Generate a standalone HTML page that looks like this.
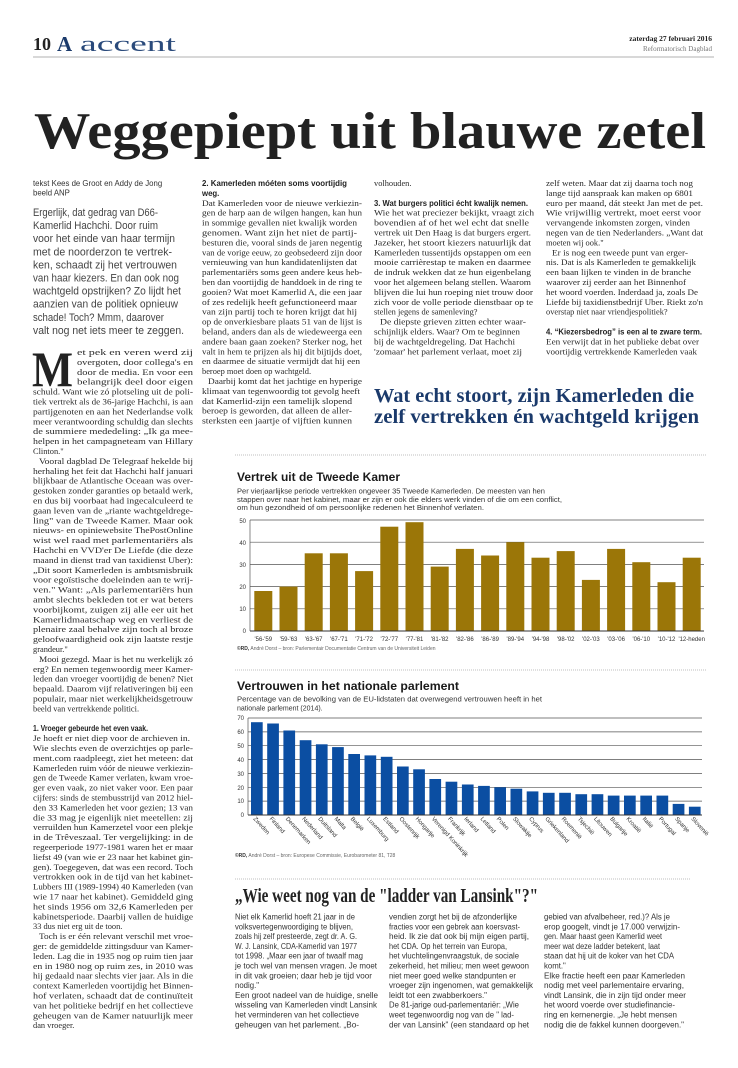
<!DOCTYPE html>
<html><head><meta charset="utf-8">
<style>
html,body{margin:0;padding:0;background:#fff;}
svg{display:block;}
.b{font-family:"Liberation Serif",serif;font-size:8.4px;fill:#2a2a2a;}
.h{font-family:"Liberation Sans",sans-serif;font-size:7.8px;font-weight:bold;fill:#222;}
.s{font-family:"Liberation Sans",sans-serif;font-size:7.8px;fill:#333;}
.i{font-family:"Liberation Sans",sans-serif;font-size:10.6px;fill:#444;}
.ax{font-family:"Liberation Sans",sans-serif;font-size:6px;fill:#333;}
.cr{font-family:"Liberation Sans",sans-serif;font-size:5px;fill:#666;}
.ct{font-family:"Liberation Sans",sans-serif;font-size:11.5px;font-weight:bold;fill:#1a1a1a;}
.cs{font-family:"Liberation Sans",sans-serif;font-size:7px;fill:#333;}
</style></head><body>
<svg width="738" height="1068" viewBox="0 0 738 1068" xmlns="http://www.w3.org/2000/svg">
<rect width="738" height="1068" fill="#fff"/>
<!-- header -->
<text x="33" y="50" font-family="Liberation Serif,serif" font-size="18" font-weight="bold" fill="#222">10</text>
<text x="57" y="51" font-family="Liberation Serif,serif" font-size="21" font-weight="bold" fill="#1b3a6b">A</text>
<text x="80" y="51" font-family="Liberation Serif,serif" font-size="22" fill="#2a4a7b" textLength="96" lengthAdjust="spacingAndGlyphs">accent</text>
<text x="712" y="41" text-anchor="end" font-family="Liberation Serif,serif" font-size="7.5" font-weight="bold" fill="#222">zaterdag 27 februari 2016</text>
<text x="712" y="51" text-anchor="end" font-family="Liberation Serif,serif" font-size="7" fill="#777">Reformatorisch Dagblad</text>
<line x1="33" y1="57" x2="714" y2="57" stroke="#999" stroke-width="0.8"/>
<text x="34" y="148" font-family="Liberation Serif,serif" font-size="52" font-weight="bold" fill="#222" textLength="672" lengthAdjust="spacingAndGlyphs">Weggepiept uit blauwe zetel</text>

<!-- byline and intro -->
<text class="s" x="33" y="186" font-size="7.6">tekst Kees de Groot en Addy de Jong</text>
<text class="s" x="33" y="195.5" font-size="7.6">beeld ANP</text>
<text class="i" x="33" y="216" textLength="125" lengthAdjust="spacingAndGlyphs">Ergerlijk, dat gedrag van D66-</text>
<text class="i" x="33" y="229.1" textLength="125" lengthAdjust="spacingAndGlyphs">Kamerlid Hachchi. Door ruim</text>
<text class="i" x="33" y="242.2" textLength="142" lengthAdjust="spacingAndGlyphs">voor het einde van haar termijn</text>
<text class="i" x="33" y="255.3" textLength="139" lengthAdjust="spacingAndGlyphs">met de noorderzon te vertrek-</text>
<text class="i" x="33" y="268.4" textLength="144" lengthAdjust="spacingAndGlyphs">ken, schaadt zij het vertrouwen</text>
<text class="i" x="33" y="281.5" textLength="146" lengthAdjust="spacingAndGlyphs">van haar kiezers. En dan ook nog</text>
<text class="i" x="33" y="294.6" textLength="148" lengthAdjust="spacingAndGlyphs">wachtgeld opstrijken? Zo lijdt het</text>
<text class="i" x="33" y="307.7" textLength="145" lengthAdjust="spacingAndGlyphs">aanzien van de politiek opnieuw</text>
<text class="i" x="33" y="320.8" textLength="131" lengthAdjust="spacingAndGlyphs">schade! Toch? Mmm, daarover</text>
<text class="i" x="33" y="333.9" textLength="151" lengthAdjust="spacingAndGlyphs">valt nog net iets meer te zeggen.</text>

<!-- drop cap -->
<text x="32" y="386" font-family="Liberation Serif,serif" font-size="50" font-weight="bold" fill="#222" textLength="41" lengthAdjust="spacingAndGlyphs">M</text>

<!-- column 1 -->
<text class="b" x="77" y="355" textLength="116" lengthAdjust="spacingAndGlyphs">et pek en veren werd zij</text>
<text class="b" x="77" y="364.9" textLength="116" lengthAdjust="spacingAndGlyphs">overgoten, door collega's en</text>
<text class="b" x="77" y="374.8" textLength="116" lengthAdjust="spacingAndGlyphs">door de media. En voor een</text>
<text class="b" x="77" y="384.7" textLength="116" lengthAdjust="spacingAndGlyphs">belangrijk deel door eigen</text>
<text class="b" x="33" y="394.6" textLength="160" lengthAdjust="spacingAndGlyphs">schuld. Want wie zó plotseling uit de poli-</text>
<text class="b" x="33" y="404.5" textLength="160" lengthAdjust="spacingAndGlyphs">tiek vertrekt als de 36-jarige Hachchi, is aan</text>
<text class="b" x="33" y="414.4" textLength="160" lengthAdjust="spacingAndGlyphs">partijgenoten en aan het Nederlandse volk</text>
<text class="b" x="33" y="424.3" textLength="160" lengthAdjust="spacingAndGlyphs">meer verantwoording schuldig dan slechts</text>
<text class="b" x="33" y="434.2" textLength="160" lengthAdjust="spacingAndGlyphs">de summiere mededeling: „Ik ga mee-</text>
<text class="b" x="33" y="444.1" textLength="160" lengthAdjust="spacingAndGlyphs">helpen in het campagneteam van Hillary</text>
<text class="b" x="33" y="454">Clinton."</text>
<text class="b" x="39" y="463.9" textLength="154" lengthAdjust="spacingAndGlyphs">Vooral dagblad De Telegraaf hekelde bij</text>
<text class="b" x="33" y="473.8" textLength="160" lengthAdjust="spacingAndGlyphs">herhaling het feit dat Hachchi half januari</text>
<text class="b" x="33" y="483.7" textLength="160" lengthAdjust="spacingAndGlyphs">blijkbaar de Atlantische Oceaan was over-</text>
<text class="b" x="33" y="493.6" textLength="160" lengthAdjust="spacingAndGlyphs">gestoken zonder garanties op betaald werk,</text>
<text class="b" x="33" y="503.5" textLength="160" lengthAdjust="spacingAndGlyphs">en dus bij voorbaat had ingecalculeerd te</text>
<text class="b" x="33" y="513.4" textLength="160" lengthAdjust="spacingAndGlyphs">gaan leven van de „riante wachtgeldrege-</text>
<text class="b" x="33" y="523.3" textLength="160" lengthAdjust="spacingAndGlyphs">ling" van de Tweede Kamer. Maar ook</text>
<text class="b" x="33" y="533.2" textLength="160" lengthAdjust="spacingAndGlyphs">nieuws- en opiniewebsite ThePostOnline</text>
<text class="b" x="33" y="543.1" textLength="160" lengthAdjust="spacingAndGlyphs">wist wel raad met parlementariërs als</text>
<text class="b" x="33" y="553" textLength="160" lengthAdjust="spacingAndGlyphs">Hachchi en VVD'er De Liefde (die deze</text>
<text class="b" x="33" y="562.9" textLength="160" lengthAdjust="spacingAndGlyphs">maand in dienst trad van taxidienst Uber):</text>
<text class="b" x="33" y="572.8" textLength="160" lengthAdjust="spacingAndGlyphs">„Dit soort Kamerleden is ambtsmisbruik</text>
<text class="b" x="33" y="582.7" textLength="160" lengthAdjust="spacingAndGlyphs">voor egoïstische doeleinden aan te wrij-</text>
<text class="b" x="33" y="592.6" textLength="160" lengthAdjust="spacingAndGlyphs">ven." Want: „Als parlementariërs hun</text>
<text class="b" x="33" y="602.5" textLength="160" lengthAdjust="spacingAndGlyphs">ambt slechts bekleden tot er wat beters</text>
<text class="b" x="33" y="612.4" textLength="160" lengthAdjust="spacingAndGlyphs">voorbijkomt, zuigen zij alle eer uit het</text>
<text class="b" x="33" y="622.3" textLength="160" lengthAdjust="spacingAndGlyphs">Kamerlidmaatschap weg en verliest de</text>
<text class="b" x="33" y="632.2" textLength="160" lengthAdjust="spacingAndGlyphs">plenaire zaal behalve zijn toch al broze</text>
<text class="b" x="33" y="642.1" textLength="160" lengthAdjust="spacingAndGlyphs">geloofwaardigheid ook zijn laatste restje</text>
<text class="b" x="33" y="652">grandeur."</text>
<text class="b" x="39" y="661.9" textLength="154" lengthAdjust="spacingAndGlyphs">Mooi gezegd. Maar is het nu werkelijk zó</text>
<text class="b" x="33" y="671.8" textLength="160" lengthAdjust="spacingAndGlyphs">erg? En nemen tegenwoordig meer Kamer-</text>
<text class="b" x="33" y="681.7" textLength="160" lengthAdjust="spacingAndGlyphs">leden dan vroeger voortijdig de benen? Niet</text>
<text class="b" x="33" y="691.6" textLength="160" lengthAdjust="spacingAndGlyphs">bepaald. Daarom vijf relativeringen bij een</text>
<text class="b" x="33" y="701.5" textLength="160" lengthAdjust="spacingAndGlyphs">populair, maar niet werkelijkheidsgetrouw</text>
<text class="b" x="33" y="711.4">beeld van vertrekkende politici.</text>
<text class="h" x="33" y="731.2" textLength="115" lengthAdjust="spacingAndGlyphs">1. Vroeger gebeurde het even vaak.</text>
<text class="b" x="33" y="741.1" textLength="157" lengthAdjust="spacingAndGlyphs">Je hoeft er niet diep voor de archieven in.</text>
<text class="b" x="33" y="751" textLength="160" lengthAdjust="spacingAndGlyphs">Wie slechts even de overzichtjes op parle-</text>
<text class="b" x="33" y="760.9" textLength="160" lengthAdjust="spacingAndGlyphs">ment.com raadpleegt, ziet het meteen: dat</text>
<text class="b" x="33" y="770.8" textLength="160" lengthAdjust="spacingAndGlyphs">Kamerleden ruim vóór de nieuwe verkiezin-</text>
<text class="b" x="33" y="780.7" textLength="160" lengthAdjust="spacingAndGlyphs">gen de Tweede Kamer verlaten, kwam vroe-</text>
<text class="b" x="33" y="790.6" textLength="160" lengthAdjust="spacingAndGlyphs">ger even vaak, zo niet vaker voor. Een paar</text>
<text class="b" x="33" y="800.5" textLength="160" lengthAdjust="spacingAndGlyphs">cijfers: sinds de stembusstrijd van 2012 hiel-</text>
<text class="b" x="33" y="810.4" textLength="160" lengthAdjust="spacingAndGlyphs">den 33 Kamerleden het voor gezien; 13 van</text>
<text class="b" x="33" y="820.3" textLength="160" lengthAdjust="spacingAndGlyphs">die 33 mag je eigenlijk niet meetellen: zij</text>
<text class="b" x="33" y="830.2" textLength="160" lengthAdjust="spacingAndGlyphs">verruilden hun Kamerzetel voor een plekje</text>
<text class="b" x="33" y="840.1" textLength="160" lengthAdjust="spacingAndGlyphs">in de Trêveszaal. Ter vergelijking: in de</text>
<text class="b" x="33" y="850" textLength="160" lengthAdjust="spacingAndGlyphs">regeerperiode 1977-1981 waren het er maar</text>
<text class="b" x="33" y="859.9" textLength="160" lengthAdjust="spacingAndGlyphs">liefst 49 (van wie er 23 naar het kabinet gin-</text>
<text class="b" x="33" y="869.8" textLength="160" lengthAdjust="spacingAndGlyphs">gen). Toegegeven, dat was een record. Toch</text>
<text class="b" x="33" y="879.7" textLength="160" lengthAdjust="spacingAndGlyphs">vertrokken ook in de tijd van het kabinet-</text>
<text class="b" x="33" y="889.6" textLength="160" lengthAdjust="spacingAndGlyphs">Lubbers III (1989-1994) 40 Kamerleden (van</text>
<text class="b" x="33" y="899.5" textLength="160" lengthAdjust="spacingAndGlyphs">wie 17 naar het kabinet). Gemiddeld ging</text>
<text class="b" x="33" y="909.4" textLength="160" lengthAdjust="spacingAndGlyphs">het sinds 1956 om 32,6 Kamerleden per</text>
<text class="b" x="33" y="919.3" textLength="160" lengthAdjust="spacingAndGlyphs">kabinetsperiode. Daarbij vallen de huidige</text>
<text class="b" x="33" y="929.2">33 dus niet erg uit de toon.</text>
<text class="b" x="39" y="939.1" textLength="154" lengthAdjust="spacingAndGlyphs">Toch is er één relevant verschil met vroe-</text>
<text class="b" x="33" y="949" textLength="160" lengthAdjust="spacingAndGlyphs">ger: de gemiddelde zittingsduur van Kamer-</text>
<text class="b" x="33" y="958.9" textLength="160" lengthAdjust="spacingAndGlyphs">leden. Lag die in 1935 nog op ruim tien jaar</text>
<text class="b" x="33" y="968.8" textLength="160" lengthAdjust="spacingAndGlyphs">en in 1980 nog op ruim zes, in 2010 was</text>
<text class="b" x="33" y="978.7" textLength="160" lengthAdjust="spacingAndGlyphs">hij gedaald naar slechts vier jaar. Als in die</text>
<text class="b" x="33" y="988.6" textLength="160" lengthAdjust="spacingAndGlyphs">context Kamerleden voortijdig het Binnen-</text>
<text class="b" x="33" y="998.5" textLength="160" lengthAdjust="spacingAndGlyphs">hof verlaten, schaadt dat de continuïteit</text>
<text class="b" x="33" y="1008.4" textLength="160" lengthAdjust="spacingAndGlyphs">van het politieke bedrijf en het collectieve</text>
<text class="b" x="33" y="1018.3" textLength="160" lengthAdjust="spacingAndGlyphs">geheugen van de Kamer natuurlijk meer</text>
<text class="b" x="33" y="1028.2">dan vroeger.</text>

<!-- column 2 -->
<text class="h" x="202" y="186" textLength="145" lengthAdjust="spacingAndGlyphs">2. Kamerleden móéten soms voortijdig</text>
<text class="h" x="202" y="195.9">weg.</text>
<text class="b" x="202" y="205.8" textLength="160" lengthAdjust="spacingAndGlyphs">Dat Kamerleden voor de nieuwe verkiezin-</text>
<text class="b" x="202" y="215.7" textLength="160" lengthAdjust="spacingAndGlyphs">gen de harp aan de wilgen hangen, kan hun</text>
<text class="b" x="202" y="225.6" textLength="155" lengthAdjust="spacingAndGlyphs">in sommige gevallen niet kwalijk worden</text>
<text class="b" x="202" y="235.5" textLength="155" lengthAdjust="spacingAndGlyphs">genomen. Want zijn het niet de partij-</text>
<text class="b" x="202" y="245.4" textLength="160" lengthAdjust="spacingAndGlyphs">besturen die, vooral sinds de jaren negentig</text>
<text class="b" x="202" y="255.3" textLength="160" lengthAdjust="spacingAndGlyphs">van de vorige eeuw, zo geobsedeerd zijn door</text>
<text class="b" x="202" y="265.2" textLength="155" lengthAdjust="spacingAndGlyphs">vernieuwing van hun kandidatenlijsten dat</text>
<text class="b" x="202" y="275.1" textLength="160" lengthAdjust="spacingAndGlyphs">parlementariërs soms geen andere keus heb-</text>
<text class="b" x="202" y="285" textLength="160" lengthAdjust="spacingAndGlyphs">ben dan voortijdig de handdoek in de ring te</text>
<text class="b" x="202" y="294.9" textLength="160" lengthAdjust="spacingAndGlyphs">gooien? Wat moet Kamerlid A, die een jaar</text>
<text class="b" x="202" y="304.8" textLength="155" lengthAdjust="spacingAndGlyphs">of zes redelijk heeft gefunctioneerd maar</text>
<text class="b" x="202" y="314.7" textLength="155" lengthAdjust="spacingAndGlyphs">van zijn partij toch te horen krijgt dat hij</text>
<text class="b" x="202" y="324.6" textLength="160" lengthAdjust="spacingAndGlyphs">op de onverkiesbare plaats 51 van de lijst is</text>
<text class="b" x="202" y="334.5" textLength="160" lengthAdjust="spacingAndGlyphs">beland, anders dan als de wiedeweerga een</text>
<text class="b" x="202" y="344.4" textLength="160" lengthAdjust="spacingAndGlyphs">andere baan gaan zoeken? Sterker nog, het</text>
<text class="b" x="202" y="354.3" textLength="160" lengthAdjust="spacingAndGlyphs">valt in hem te prijzen als hij dit bijtijds doet,</text>
<text class="b" x="202" y="364.2" textLength="158" lengthAdjust="spacingAndGlyphs">en daarmee de situatie vermijdt dat hij een</text>
<text class="b" x="202" y="374.1">beroep moet doen op wachtgeld.</text>
<text class="b" x="208" y="384" textLength="154" lengthAdjust="spacingAndGlyphs">Daarbij komt dat het jachtige en hyperige</text>
<text class="b" x="202" y="393.9" textLength="158" lengthAdjust="spacingAndGlyphs">klimaat van tegenwoordig tot gevolg heeft</text>
<text class="b" x="202" y="403.8" textLength="150" lengthAdjust="spacingAndGlyphs">dat Kamerlid-zijn een tamelijk slopend</text>
<text class="b" x="202" y="413.7" textLength="150" lengthAdjust="spacingAndGlyphs">beroep is geworden, dat alleen de aller-</text>
<text class="b" x="202" y="423.6" textLength="150" lengthAdjust="spacingAndGlyphs">sterksten een jaartje of vijftien kunnen</text>

<!-- column 3 -->
<text class="b" x="374" y="186">volhouden.</text>
<text class="h" x="374" y="205.8" textLength="154" lengthAdjust="spacingAndGlyphs">3. Wat burgers politici écht kwalijk nemen.</text>
<text class="b" x="374" y="215.7" textLength="160" lengthAdjust="spacingAndGlyphs">Wie het wat preciezer bekijkt, vraagt zich</text>
<text class="b" x="374" y="225.6" textLength="155" lengthAdjust="spacingAndGlyphs">bovendien af of het wel echt dat snelle</text>
<text class="b" x="374" y="235.5" textLength="157" lengthAdjust="spacingAndGlyphs">vertrek uit Den Haag is dat burgers ergert.</text>
<text class="b" x="374" y="245.4" textLength="157" lengthAdjust="spacingAndGlyphs">Jazeker, het stoort kiezers natuurlijk dat</text>
<text class="b" x="374" y="255.3" textLength="157" lengthAdjust="spacingAndGlyphs">Kamerleden tussentijds opstappen om een</text>
<text class="b" x="374" y="265.2" textLength="157" lengthAdjust="spacingAndGlyphs">mooie carrièrestap te maken en daarmee</text>
<text class="b" x="374" y="275.1" textLength="157" lengthAdjust="spacingAndGlyphs">de indruk wekken dat ze hun eigenbelang</text>
<text class="b" x="374" y="285" textLength="157" lengthAdjust="spacingAndGlyphs">voor het algemeen belang stellen. Waarom</text>
<text class="b" x="374" y="294.9" textLength="159" lengthAdjust="spacingAndGlyphs">blijven die lui hun roeping niet trouw door</text>
<text class="b" x="374" y="304.8" textLength="159" lengthAdjust="spacingAndGlyphs">zich voor de volle periode dienstbaar op te</text>
<text class="b" x="374" y="314.7">stellen jegens de samenleving?</text>
<text class="b" x="380" y="324.6" textLength="146" lengthAdjust="spacingAndGlyphs">De diepste grieven zitten echter waar-</text>
<text class="b" x="374" y="334.5" textLength="146" lengthAdjust="spacingAndGlyphs">schijnlijk elders. Waar? Om te beginnen</text>
<text class="b" x="374" y="344.4" textLength="141" lengthAdjust="spacingAndGlyphs">bij de wachtgeldregeling. Dat Hachchi</text>
<text class="b" x="374" y="354.3" textLength="148" lengthAdjust="spacingAndGlyphs">'zomaar' het parlement verlaat, moet zij</text>

<!-- column 4 -->
<text class="b" x="546" y="186" textLength="147" lengthAdjust="spacingAndGlyphs">zelf weten. Maar dat zij daarna toch nog</text>
<text class="b" x="546" y="195.9" textLength="147" lengthAdjust="spacingAndGlyphs">lange tijd aanspraak kan maken op 6801</text>
<text class="b" x="546" y="205.8" textLength="157" lengthAdjust="spacingAndGlyphs">euro per maand, dát steekt Jan met de pet.</text>
<text class="b" x="546" y="215.7" textLength="155" lengthAdjust="spacingAndGlyphs">Wie vrijwillig vertrekt, moet eerst voor</text>
<text class="b" x="546" y="225.6" textLength="144" lengthAdjust="spacingAndGlyphs">vervangende inkomsten zorgen, vinden</text>
<text class="b" x="546" y="235.5" textLength="157" lengthAdjust="spacingAndGlyphs">negen van de tien Nederlanders. „Want dat</text>
<text class="b" x="546" y="245.4">moeten wij ook."</text>
<text class="b" x="552" y="255.3" textLength="136" lengthAdjust="spacingAndGlyphs">Er is nog een tweede punt van erger-</text>
<text class="b" x="546" y="265.2" textLength="150" lengthAdjust="spacingAndGlyphs">nis. Dat is als Kamerleden te gemakkelijk</text>
<text class="b" x="546" y="275.1" textLength="145" lengthAdjust="spacingAndGlyphs">een baan lijken te vinden in de branche</text>
<text class="b" x="546" y="285" textLength="140" lengthAdjust="spacingAndGlyphs">waarover zij eerder aan het Binnenhof</text>
<text class="b" x="546" y="294.9" textLength="152" lengthAdjust="spacingAndGlyphs">het woord voerden. Inderdaad ja, zoals De</text>
<text class="b" x="546" y="304.8" textLength="157" lengthAdjust="spacingAndGlyphs">Liefde bij taxidienstbedrijf Uber. Riekt zo'n</text>
<text class="b" x="546" y="314.7">overstap niet naar vriendjespolitiek?</text>
<text class="h" x="546" y="334.5" textLength="156" lengthAdjust="spacingAndGlyphs">4. “Kiezersbedrog” is een al te zware term.</text>
<text class="b" x="546" y="344.4" textLength="153" lengthAdjust="spacingAndGlyphs">Een verwijt dat in het publieke debat over</text>
<text class="b" x="546" y="354.3" textLength="151" lengthAdjust="spacingAndGlyphs">voortijdig vertrekkende Kamerleden vaak</text>

<!-- pull quote -->
<text x="374" y="402" font-family="Liberation Serif,serif" font-size="20" font-weight="bold" fill="#1b3a6b" textLength="320" lengthAdjust="spacingAndGlyphs">Wat echt stoort, zijn Kamerleden die</text>
<text x="374" y="423" font-family="Liberation Serif,serif" font-size="20" font-weight="bold" fill="#1b3a6b" textLength="325" lengthAdjust="spacingAndGlyphs">zelf vertrekken én wachtgeld krijgen</text>

<!-- dotted separators -->
<line x1="235" y1="455" x2="706" y2="455" stroke="#aaa" stroke-width="0.7" stroke-dasharray="1,1"/>
<line x1="235" y1="670" x2="706" y2="670" stroke="#aaa" stroke-width="0.7" stroke-dasharray="1,1"/>
<line x1="235" y1="879" x2="690" y2="879" stroke="#aaa" stroke-width="0.7" stroke-dasharray="1,1"/>

<!-- chart 1 -->
<text class="ct" x="237" y="481" textLength="163" lengthAdjust="spacingAndGlyphs">Vertrek uit de Tweede Kamer</text>
<text class="cs" x="237" y="493.5" textLength="308" lengthAdjust="spacingAndGlyphs">Per vierjaarlijkse periode vertrekken ongeveer 35 Tweede Kamerleden. De meesten van hen</text>
<text class="cs" x="237" y="501.8" textLength="325" lengthAdjust="spacingAndGlyphs">stappen over naar het kabinet, maar er zijn er ook die elders werk vinden of die om een conflict,</text>
<text class="cs" x="237" y="510.1" textLength="247" lengthAdjust="spacingAndGlyphs">om hun gezondheid of om persoonlijke redenen het Binnenhof verlaten.</text>
<g stroke="#555" stroke-width="0.7">
<line x1="250" y1="520" x2="704" y2="520"/><line x1="250" y1="542.2" x2="704" y2="542.2"/><line x1="250" y1="564.4" x2="704" y2="564.4"/><line x1="250" y1="586.6" x2="704" y2="586.6"/><line x1="250" y1="608.8" x2="704" y2="608.8"/>
<line x1="250" y1="520" x2="250" y2="631"/>
</g>
<g fill="#9b7608">
<rect x="254.3" y="591" width="18" height="40"/>
<rect x="279.5" y="586.6" width="18" height="44.4"/>
<rect x="304.7" y="553.3" width="18" height="77.7"/>
<rect x="329.9" y="553.3" width="18" height="77.7"/>
<rect x="355.1" y="571.1" width="18" height="59.9"/>
<rect x="380.3" y="526.7" width="18" height="104.3"/>
<rect x="405.5" y="522.2" width="18" height="108.8"/>
<rect x="430.7" y="566.6" width="18" height="64.4"/>
<rect x="455.9" y="548.9" width="18" height="82.1"/>
<rect x="481.1" y="555.5" width="18" height="75.5"/>
<rect x="506.3" y="542.2" width="18" height="88.8"/>
<rect x="531.5" y="557.7" width="18" height="73.3"/>
<rect x="556.7" y="551.1" width="18" height="79.9"/>
<rect x="581.9" y="579.9" width="18" height="51.1"/>
<rect x="607.1" y="548.9" width="18" height="82.1"/>
<rect x="632.3" y="562.2" width="18" height="68.8"/>
<rect x="657.5" y="582.2" width="18" height="48.8"/>
<rect x="682.7" y="557.7" width="18" height="73.3"/>
</g>
<line x1="250" y1="631" x2="704" y2="631" stroke="#333" stroke-width="0.9"/>
<g class="ax" text-anchor="end">
<text x="246" y="523">50</text><text x="246" y="545">40</text><text x="246" y="567">30</text><text x="246" y="589">20</text><text x="246" y="611">10</text><text x="246" y="633">0</text>
</g>
<g class="ax" text-anchor="middle" font-size="5.6">
<text x="263.3" y="641">'56-'59</text><text x="288.5" y="641">'59-'63</text><text x="313.7" y="641">'63-'67</text><text x="338.9" y="641">'67-'71</text><text x="364.1" y="641">'71-'72</text><text x="389.3" y="641">'72-'77</text><text x="414.5" y="641">'77-'81</text><text x="439.7" y="641">'81-'82</text><text x="464.9" y="641">'82-'86</text><text x="490.1" y="641">'86-'89</text><text x="515.3" y="641">'89-'94</text><text x="540.5" y="641">'94-'98</text><text x="565.7" y="641">'98-'02</text><text x="590.9" y="641">'02-'03</text><text x="616.1" y="641">'03-'06</text><text x="641.3" y="641">'06-'10</text><text x="666.5" y="641">'10-'12</text><text x="691.7" y="641">'12-heden</text>
</g>
<text class="cr" x="237" y="650"><tspan font-weight="bold" fill="#333">©RD,</tspan> André Dorst – bron: Parlementair Documentatie Centrum van de Universiteit Leiden</text>

<!-- chart 2 -->
<text class="ct" x="237" y="690" textLength="222" lengthAdjust="spacingAndGlyphs">Vertrouwen in het nationale parlement</text>
<text class="cs" x="237" y="701.5" textLength="305" lengthAdjust="spacingAndGlyphs">Percentage van de bevolking van de EU-lidstaten dat overwegend vertrouwen heeft in het</text>
<text class="cs" x="237" y="710.3">nationale parlement (2014).</text>
<g stroke="#555" stroke-width="0.7">
<line x1="248" y1="718" x2="702" y2="718"/><line x1="248" y1="731.9" x2="702" y2="731.9"/><line x1="248" y1="745.7" x2="702" y2="745.7"/><line x1="248" y1="759.6" x2="702" y2="759.6"/><line x1="248" y1="773.4" x2="702" y2="773.4"/><line x1="248" y1="787.3" x2="702" y2="787.3"/><line x1="248" y1="801.1" x2="702" y2="801.1"/>
<line x1="248" y1="718" x2="248" y2="815"/>
</g>
<g fill="#0b4ea2">
<rect x="251" y="722.2" width="11.7" height="92.8"/>
<rect x="267.2" y="723.5" width="11.7" height="91.5"/>
<rect x="283.4" y="730.5" width="11.7" height="84.5"/>
<rect x="299.7" y="740.2" width="11.7" height="74.8"/>
<rect x="315.9" y="744.3" width="11.7" height="70.7"/>
<rect x="332.1" y="747.1" width="11.7" height="67.9"/>
<rect x="348.3" y="754" width="11.7" height="61"/>
<rect x="364.5" y="755.4" width="11.7" height="59.6"/>
<rect x="380.8" y="756.8" width="11.7" height="58.2"/>
<rect x="397" y="766.5" width="11.7" height="48.5"/>
<rect x="413.2" y="769.3" width="11.7" height="45.7"/>
<rect x="429.4" y="779" width="11.7" height="36"/>
<rect x="445.6" y="781.7" width="11.7" height="33.3"/>
<rect x="461.9" y="784.5" width="11.7" height="30.5"/>
<rect x="478.1" y="785.9" width="11.7" height="29.1"/>
<rect x="494.3" y="787.3" width="11.7" height="27.7"/>
<rect x="510.5" y="788.7" width="11.7" height="26.3"/>
<rect x="526.7" y="791.4" width="11.7" height="23.6"/>
<rect x="542.9" y="792.8" width="11.7" height="22.2"/>
<rect x="559.2" y="792.8" width="11.7" height="22.2"/>
<rect x="575.4" y="794.2" width="11.7" height="20.8"/>
<rect x="591.6" y="794.2" width="11.7" height="20.8"/>
<rect x="607.8" y="795.6" width="11.7" height="19.4"/>
<rect x="624" y="795.6" width="11.7" height="19.4"/>
<rect x="640.3" y="795.6" width="11.7" height="19.4"/>
<rect x="656.5" y="795.6" width="11.7" height="19.4"/>
<rect x="672.7" y="803.9" width="11.7" height="11.1"/>
<rect x="688.9" y="806.7" width="11.7" height="8.3"/>
</g>
<line x1="248" y1="815" x2="702" y2="815" stroke="#333" stroke-width="0.9"/>
<g class="ax" text-anchor="end">
<text x="244" y="720">70</text><text x="244" y="734">60</text><text x="244" y="748">50</text><text x="244" y="762">40</text><text x="244" y="776">30</text><text x="244" y="790">20</text><text x="244" y="803">10</text><text x="244" y="817">0</text>
</g>
<g class="ax" font-size="5.8">
<text transform="translate(253,819) rotate(48)">Zweden</text>
<text transform="translate(269.2,819) rotate(48)">Finland</text>
<text transform="translate(285.4,819) rotate(48)">Denemarken</text>
<text transform="translate(301.7,819) rotate(48)">Nederland</text>
<text transform="translate(317.9,819) rotate(48)">Duitsland</text>
<text transform="translate(334.1,819) rotate(48)">Malta</text>
<text transform="translate(350.3,819) rotate(48)">België</text>
<text transform="translate(366.5,819) rotate(48)">Luxemburg</text>
<text transform="translate(382.8,819) rotate(48)">Estland</text>
<text transform="translate(399,819) rotate(48)">Oostenrijk</text>
<text transform="translate(415.2,819) rotate(48)">Hongarije</text>
<text transform="translate(431.4,819) rotate(48)">Verenigd Koninkrijk</text>
<text transform="translate(447.6,819) rotate(48)">Frankrijk</text>
<text transform="translate(463.9,819) rotate(48)">Ierland</text>
<text transform="translate(480.1,819) rotate(48)">Letland</text>
<text transform="translate(496.3,819) rotate(48)">Polen</text>
<text transform="translate(512.5,819) rotate(48)">Slowakije</text>
<text transform="translate(528.7,819) rotate(48)">Cyprus</text>
<text transform="translate(544.9,819) rotate(48)">Griekenland</text>
<text transform="translate(561.2,819) rotate(48)">Roemenië</text>
<text transform="translate(577.4,819) rotate(48)">Tsjechië</text>
<text transform="translate(593.6,819) rotate(48)">Litouwen</text>
<text transform="translate(609.8,819) rotate(48)">Bulgarije</text>
<text transform="translate(626,819) rotate(48)">Kroatië</text>
<text transform="translate(642.3,819) rotate(48)">Italië</text>
<text transform="translate(658.5,819) rotate(48)">Portugal</text>
<text transform="translate(674.7,819) rotate(48)">Spanje</text>
<text transform="translate(690.9,819) rotate(48)">Slovenië</text>
</g>
<text class="cr" x="235" y="857"><tspan font-weight="bold" fill="#333">©RD,</tspan> André Dorst – bron: Europese Commissie, Eurobarometer 81, T28</text>

<!-- bottom section -->
<text x="235" y="902" font-family="Liberation Serif,serif" font-size="20" font-weight="bold" fill="#222" textLength="303" lengthAdjust="spacingAndGlyphs">„Wie weet nog van de "ladder van Lansink"?"</text>
<g class="s" font-size="7.7">
<text x="235" y="919.5" textLength="120" lengthAdjust="spacingAndGlyphs">Niet elk Kamerlid hoeft 21 jaar in de</text>
<text x="235" y="929.3" textLength="118" lengthAdjust="spacingAndGlyphs">volksvertegenwoordiging te blijven,</text>
<text x="235" y="939.1" textLength="122" lengthAdjust="spacingAndGlyphs">zoals hij zelf presteerde, zegt dr. A. G.</text>
<text x="235" y="948.9" textLength="122" lengthAdjust="spacingAndGlyphs">W. J. Lansink, CDA-Kamerlid van 1977</text>
<text x="235" y="958.7" textLength="128" lengthAdjust="spacingAndGlyphs">tot 1998. „Maar een jaar of twaalf mag</text>
<text x="235" y="968.5" textLength="142" lengthAdjust="spacingAndGlyphs">je toch wel van mensen vragen. Je moet</text>
<text x="235" y="978.3" textLength="137" lengthAdjust="spacingAndGlyphs">in dit vak groeien; daar heb je tijd voor</text>
<text x="235" y="988.1">nodig."</text>
<text x="235" y="997.9" textLength="143" lengthAdjust="spacingAndGlyphs">Een groot nadeel van de huidige, snelle</text>
<text x="235" y="1007.7" textLength="142" lengthAdjust="spacingAndGlyphs">wisseling van Kamerleden vindt Lansink</text>
<text x="235" y="1017.5" textLength="124" lengthAdjust="spacingAndGlyphs">het verminderen van het collectieve</text>
<text x="235" y="1027.3" textLength="124" lengthAdjust="spacingAndGlyphs">geheugen van het parlement. „Bo-</text>

<text x="389" y="919.5" textLength="128" lengthAdjust="spacingAndGlyphs">vendien zorgt het bij de afzonderlijke</text>
<text x="389" y="929.3" textLength="131" lengthAdjust="spacingAndGlyphs">fracties voor een gebrek aan koersvast-</text>
<text x="389" y="939.1" textLength="140" lengthAdjust="spacingAndGlyphs">heid. Ik zie dat ook bij mijn eigen partij,</text>
<text x="389" y="948.9" textLength="118" lengthAdjust="spacingAndGlyphs">het CDA. Op het terrein van Europa,</text>
<text x="389" y="958.7" textLength="130" lengthAdjust="spacingAndGlyphs">het vluchtelingenvraagstuk, de sociale</text>
<text x="389" y="968.5" textLength="140" lengthAdjust="spacingAndGlyphs">zekerheid, het milieu; men weet gewoon</text>
<text x="389" y="978.3" textLength="127" lengthAdjust="spacingAndGlyphs">niet meer goed welke standpunten er</text>
<text x="389" y="988.1" textLength="144" lengthAdjust="spacingAndGlyphs">vroeger zijn ingenomen, wat gemakkelijk</text>
<text x="389" y="997.9" textLength="98" lengthAdjust="spacingAndGlyphs">leidt tot een zwabberkoers."</text>
<text x="389" y="1007.7" textLength="130" lengthAdjust="spacingAndGlyphs">De 81-jarige oud-parlementariër: „Wie</text>
<text x="389" y="1017.5" textLength="125" lengthAdjust="spacingAndGlyphs">weet tegenwoordig nog van de " lad-</text>
<text x="389" y="1027.3" textLength="140" lengthAdjust="spacingAndGlyphs">der van Lansink" (een standaard op het</text>

<text x="544" y="919.5" textLength="126" lengthAdjust="spacingAndGlyphs">gebied van afvalbeheer, red.)? Als je</text>
<text x="544" y="929.3" textLength="136" lengthAdjust="spacingAndGlyphs">erop googelt, vindt je 17.000 verwijzin-</text>
<text x="544" y="939.1" textLength="118" lengthAdjust="spacingAndGlyphs">gen. Maar haast geen Kamerlid weet</text>
<text x="544" y="948.9" textLength="116" lengthAdjust="spacingAndGlyphs">meer wat deze ladder betekent, laat</text>
<text x="544" y="958.7" textLength="130" lengthAdjust="spacingAndGlyphs">staan dat hij uit de koker van het CDA</text>
<text x="544" y="968.5">komt."</text>
<text x="544" y="978.3" textLength="141" lengthAdjust="spacingAndGlyphs">Elke fractie heeft een paar Kamerleden</text>
<text x="544" y="988.1" textLength="140" lengthAdjust="spacingAndGlyphs">nodig met veel parlementaire ervaring,</text>
<text x="544" y="997.9" textLength="142" lengthAdjust="spacingAndGlyphs">vindt Lansink, die in zijn tijd onder meer</text>
<text x="544" y="1007.7" textLength="131" lengthAdjust="spacingAndGlyphs">het woord voerde over studiefinancie-</text>
<text x="544" y="1017.5" textLength="133" lengthAdjust="spacingAndGlyphs">ring en kernenergie. „Je hebt mensen</text>
<text x="544" y="1027.3" textLength="140" lengthAdjust="spacingAndGlyphs">nodig die de fakkel kunnen doorgeven."</text>
</g>
</svg>
</body></html>
